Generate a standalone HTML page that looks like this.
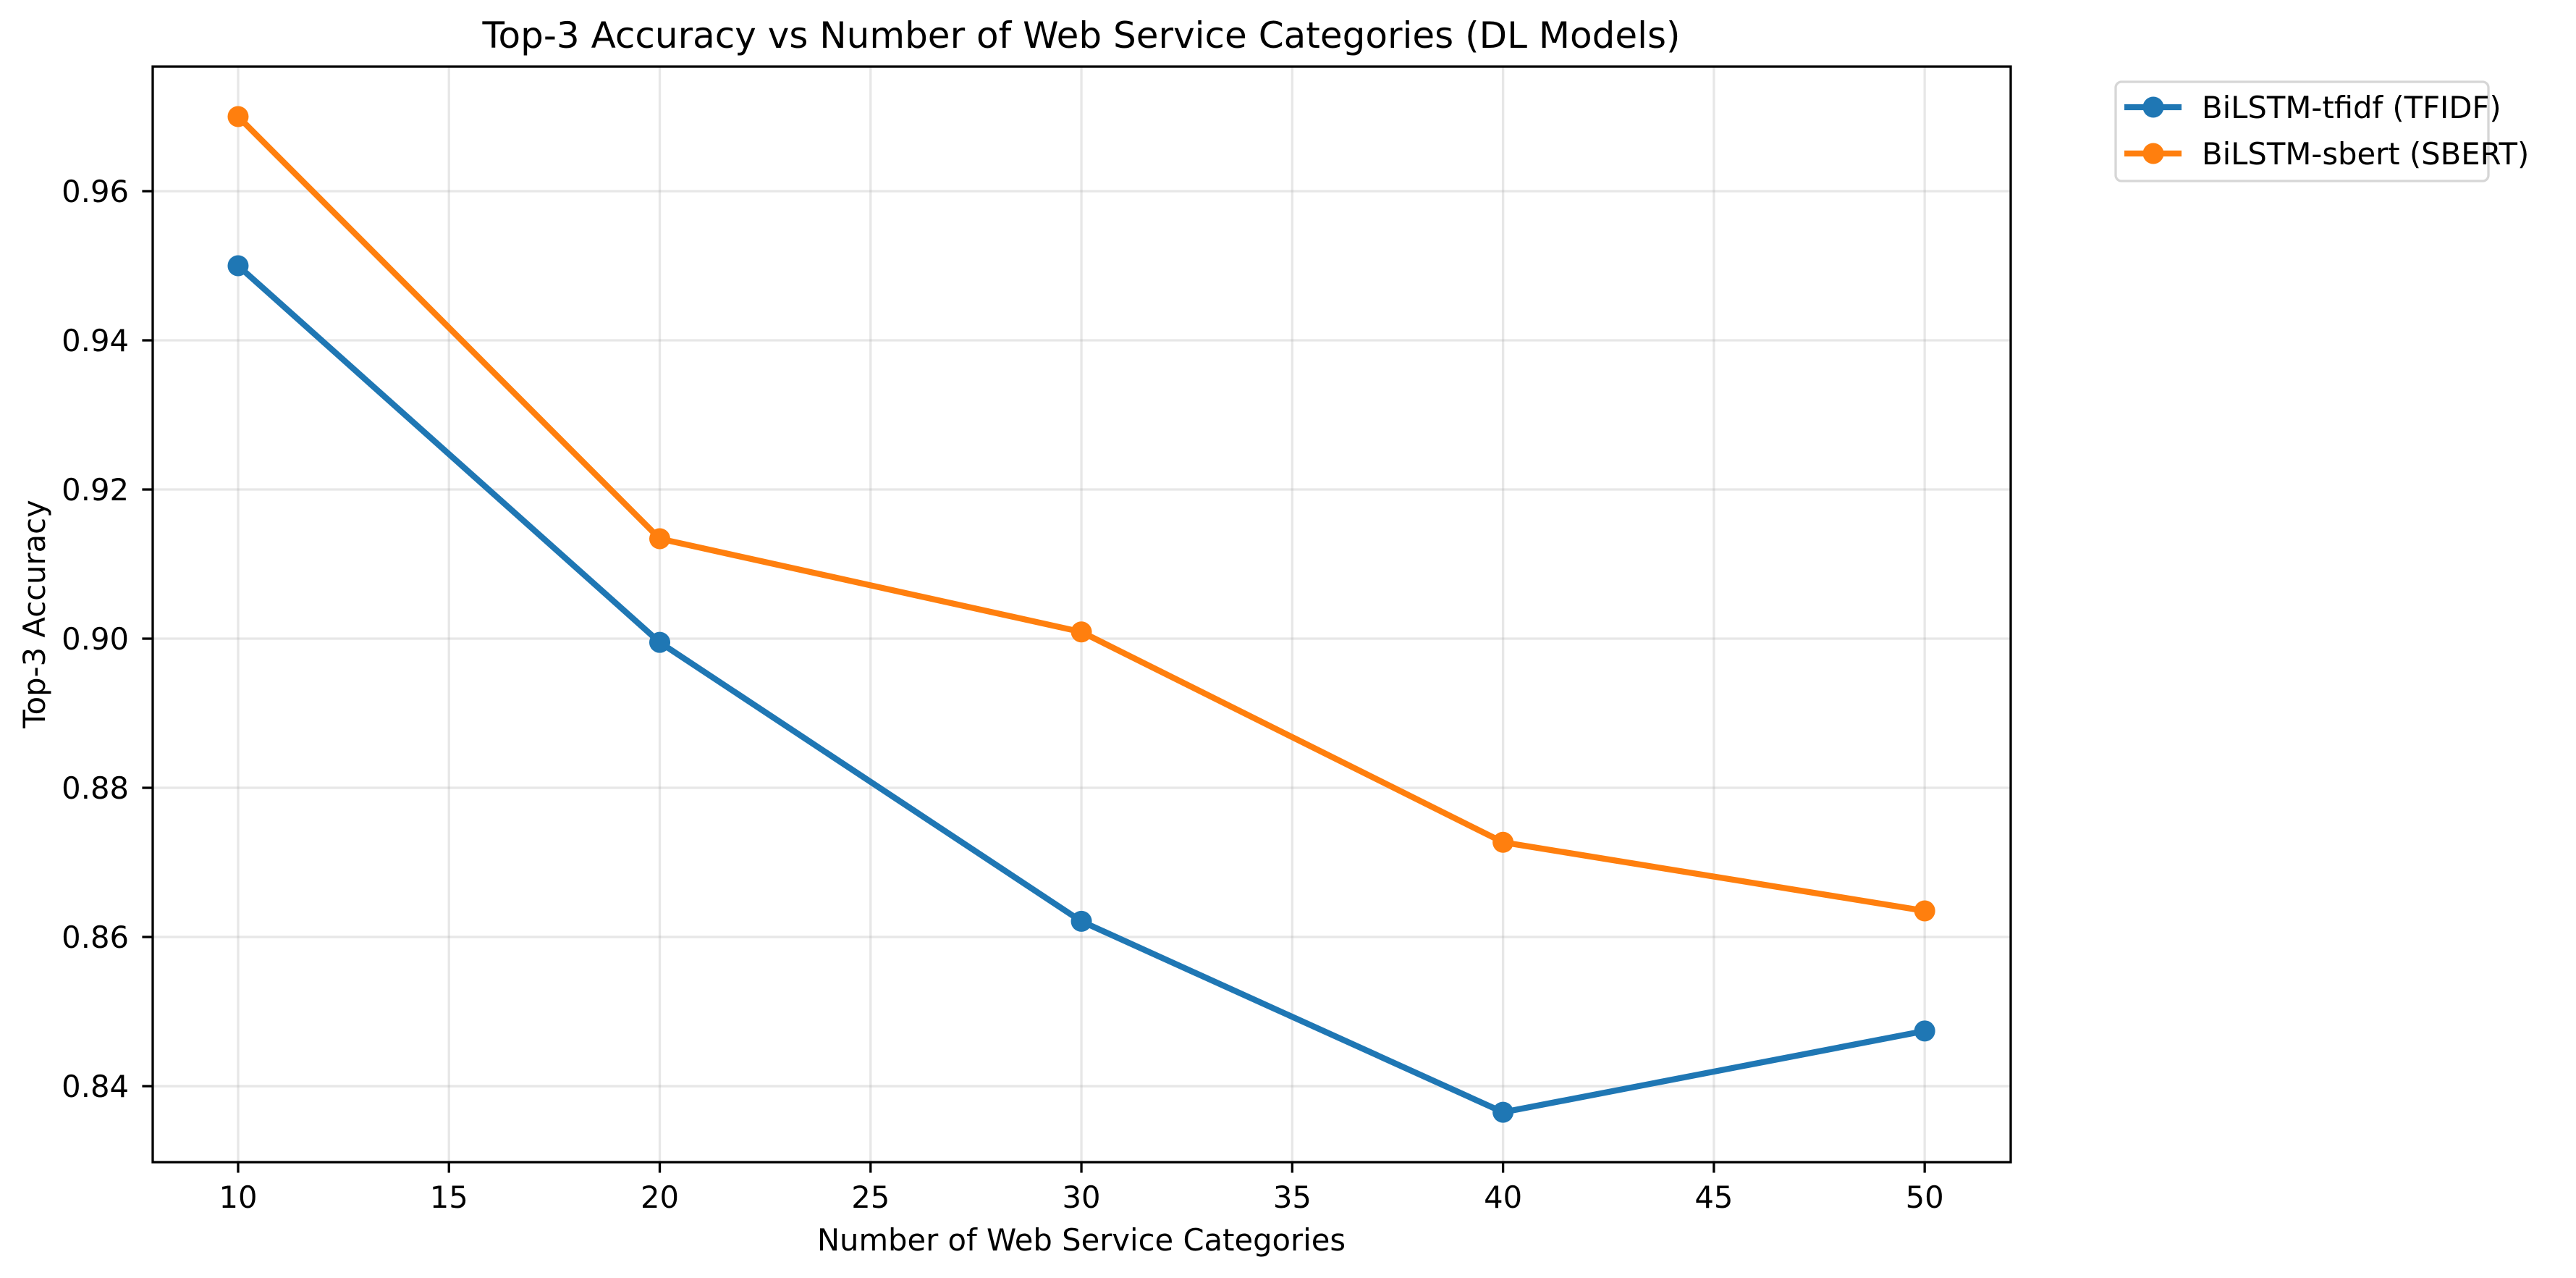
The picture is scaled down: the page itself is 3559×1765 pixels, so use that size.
<!DOCTYPE html>
<html><head><meta charset="utf-8"><style>
html,body{margin:0;padding:0;background:#fff;}
svg{display:block;font-family:"DejaVu Sans","Liberation Sans",sans-serif;}
</style></head><body>
<svg id="chart" width="3559" height="1765" viewBox="0 0 3559 1765" xmlns="http://www.w3.org/2000/svg">
<rect x="0" y="0" width="3559" height="1765" fill="#fff"/>
<g id="grid"></g>
<g id="series"></g>
<rect x="211" y="92" width="2567" height="1513" fill="none" stroke="#000" stroke-width="3.3"/>
<g id="ticks"></g>
<text x="1494" y="66" font-size="50" text-anchor="middle">Top-3 Accuracy vs Number of Web Service Categories (DL Models)</text>
<text x="1494" y="1727" font-size="41.7" text-anchor="middle">Number of Web Service Categories</text>
<text x="62" y="848" font-size="41.7" text-anchor="middle" transform="rotate(-90 62 848)">Top-3 Accuracy</text>
<g>
<rect x="2923" y="113" width="515" height="137" rx="8" fill="#fff" stroke="#d6d6d6" stroke-width="3.3"/>
<g>
<line x1="2935" y1="148" x2="3014" y2="148" stroke="#1f77b4" stroke-width="8.3"/>
<circle cx="2975" cy="148" r="14.5" fill="#1f77b4"/>
<text x="3042" y="163" font-size="41.7">BiLSTM-tfidf (TFIDF)</text>
</g>
<g>
<line x1="2935" y1="212" x2="3014" y2="212" stroke="#ff7f0e" stroke-width="8.3"/>
<circle cx="2975" cy="212" r="14.5" fill="#ff7f0e"/>
<text x="3042" y="227" font-size="41.7">BiLSTM-sbert (SBERT)</text>
</g>
</g>
</svg>
<script>
const categories = [10, 20, 30, 40, 50];
const tfidfValues = [0.950, 0.8995, 0.8621, 0.8365, 0.8474];
const sbertValues = [0.970, 0.9134, 0.9009, 0.8727, 0.8635];
const xTickLabels = ["10","15","20","25","30","35","40","45","50"];
const yTickLabels = ["0.84","0.86","0.88","0.90","0.92","0.94","0.96"];

const NS = "http://www.w3.org/2000/svg";
const L = 211, R = 2778, T = 92, B = 1605;
const xMin = 7.975, xMax = 52.04;
const yMin = 0.82981, yMax = 0.97670;
function xs(v){ return L + (v - xMin) / (xMax - xMin) * (R - L); }
function ys(v){ return B - (v - yMin) / (yMax - yMin) * (B - T); }
function mk(tag, attrs, parent){
  const e = document.createElementNS(NS, tag);
  for (const k in attrs) e.setAttribute(k, attrs[k]);
  parent.appendChild(e);
  return e;
}
const grid = document.getElementById('grid');
const ticks = document.getElementById('ticks');
const series = document.getElementById('series');

xTickLabels.forEach(t => {
  const x = xs(parseFloat(t));
  const g = mk('line', {x1:x, y1:T, x2:x, y2:B, stroke:'#b0b0b0', 'stroke-opacity':0.3, 'stroke-width':3.3}, grid);
  
  
  const tk = mk('line', {x1:x, y1:B, x2:x, y2:B+14.6, stroke:'#000', 'stroke-width':3.3}, ticks);
  
  
  const tx = mk('text', {x:x, y:1668, 'font-size':41.7, 'text-anchor':'middle'}, ticks);
  tx.textContent = t;
  
  
});
yTickLabels.forEach(t => {
  const y = ys(parseFloat(t));
  const g = mk('line', {x1:L, y1:y, x2:R, y2:y, stroke:'#b0b0b0', 'stroke-opacity':0.3, 'stroke-width':3.3}, grid);
  
  
  const tk = mk('line', {x1:L-14.6, y1:y, x2:L, y2:y, stroke:'#000', 'stroke-width':3.3}, ticks);
  
  
  const tx = mk('text', {x:178, y:y+15, 'font-size':41.7, 'text-anchor':'end'}, ticks);
  tx.textContent = t;
  
  
});

function drawSeries(vals, color, name){
  const pts = categories.map((c,i) => xs(c) + ',' + ys(vals[i])).join(' ');
  const pl = mk('polyline', {points:pts, fill:'none', stroke:color, 'stroke-width':8.3, 'stroke-linejoin':'round', 'stroke-linecap':'square'}, series);
  
  
  categories.forEach((c,i) => {
    const p = mk('circle', {cx:xs(c), cy:ys(vals[i]), r:14.5, fill:color}, series);
    
    
  });
}
drawSeries(tfidfValues, '#1f77b4', 'tfidf');
drawSeries(sbertValues, '#ff7f0e', 'sbert');
</script>
</body></html>
